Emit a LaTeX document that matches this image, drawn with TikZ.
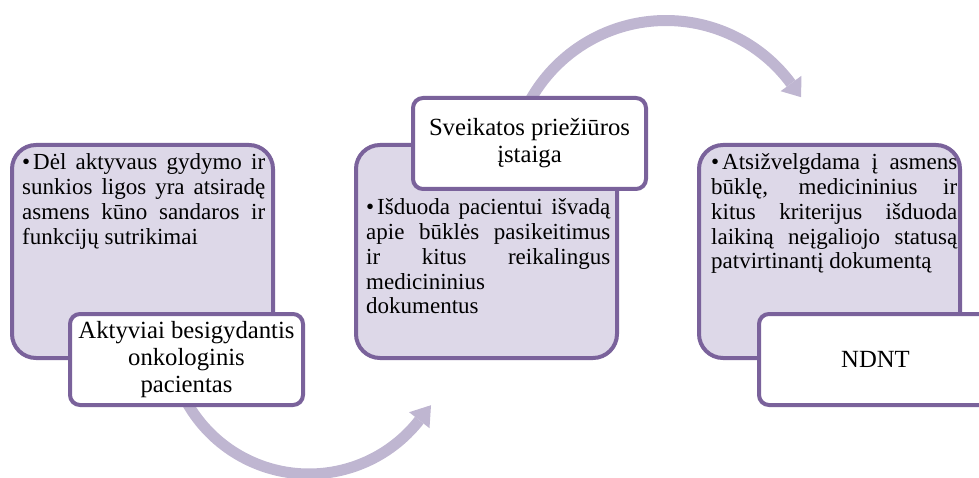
\documentclass[tikz,border=0pt]{standalone}
\usepackage{fontspec}
\setmainfont{Liberation Serif}
\definecolor{brd}{RGB}{122,98,155}
\definecolor{lav}{RGB}{221,216,232}
\definecolor{arr}{RGB}{191,182,209}
\newcommand\mybul{\hangindent=11pt\hangafter=1\noindent\makebox[11pt][l]{\textbullet}}
\begin{document}
\begin{tikzpicture}[x=1pt,y=-1pt,
  bigbox/.style={draw=brd, line width=4pt, fill=lav, rounded corners=24pt,
    minimum width=261pt, minimum height=213pt, inner sep=0pt},
  labelbox/.style={draw=brd, line width=4pt, fill=white, rounded corners=10pt,
    minimum width=233pt, minimum height=91pt, inner sep=0pt,
    font=\fontsize{24.7pt}{27pt}\selectfont, align=center},
  bodytext/.style={anchor=base west, inner sep=0pt,
    font=\fontsize{23pt}{24.7pt}\selectfont, align=justify},
  arrowshaft/.style={draw=arr, line width=11pt},
  arrowhead/.style={fill=arr}]
\useasboundingbox (0,0) rectangle (979,478);
% circular arrows
\draw[arrowshaft] plot[domain=200:322, samples=80] ({309+140*cos(\x)},{334-140*sin(\x)});
\fill[arrowhead] (409.1,412.2) -- (431,405.2) -- (429.5,428.2) -- cycle;
\draw[arrowshaft] plot[domain=36.5:155, samples=80] ({666+155.5*cos(\x)},{176-155.5*sin(\x)});
\fill[arrowhead] (780.6,91.2) -- (801.1,97.2) -- (801.4,75.8) -- cycle;
% lavender boxes
\node[bigbox] (b1) at (142.5,251.5) {};
\node[bigbox] (b2) at (486.5,251.5) {};
\node[bigbox] (b3) at (829.5,251.5) {};
% body texts
\node[bodytext, text width=243pt] (t1) at (22,170) {\mybul Dėl aktyvaus gydymo ir\linebreak sunkios ligos yra atsiradę\linebreak asmens kūno sandaros ir\linebreak funkcijų sutrikimai};
\node[bodytext, text width=244pt] (t2) at (366,215) {\mybul Išduoda pacientui išvadą\linebreak apie būklės pasikeitimus\linebreak ir kitus reikalingus\linebreak medicininius\newline dokumentus};
\node[bodytext, text width=246pt] (t3) at (711,170) {\mybul Atsižvelgdama į asmens\linebreak būklę, medicininius ir\linebreak kitus kriterijus išduoda\linebreak laikiną neįgaliojo statusą\linebreak patvirtinantį dokumentą};
% label boxes
\node[labelbox] (l1) at (186.5,359.5) {Aktyviai besigydantis\\onkologinis\\pacientas};
\node[labelbox] (l2) at (529.5,143.5) {Sveikatos priežiūros\\įstaiga};
\node[labelbox] (l3) at (875.5,359.5) {NDNT};
\end{tikzpicture}
\end{document}
